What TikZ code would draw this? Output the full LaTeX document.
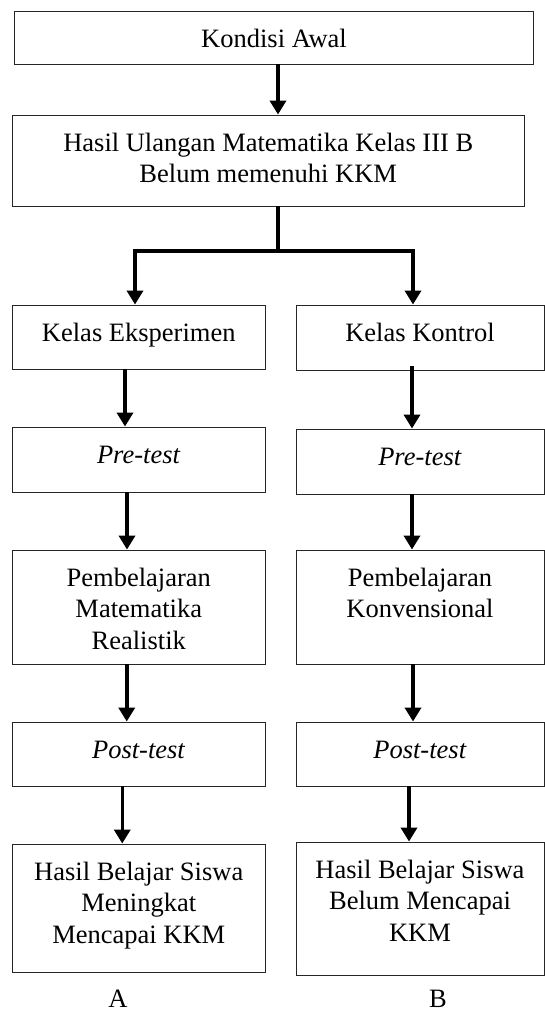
\documentclass[tikz,border=0pt]{standalone}
\usepackage{fontspec}
\setmainfont{Liberation Serif}
\usetikzlibrary{arrows.meta}

% box contents: width, height, text (top aligned)
\newcommand{\isi}[3]{\begin{minipage}[c][#2][t]{#1}\centering\rule{0pt}{36pt}#3\end{minipage}}

\begin{document}
\begin{tikzpicture} [x=1pt, y=-1pt,
  font=\fontsize{26.5}{31.5}\selectfont,
  kotak/.style={draw=black!85, line width=0.9pt, inner sep=0pt},
  garis/.style={line width=3.5pt},
  panah/.style={line width=3.5pt, -{Triangle[width=16pt, length=14pt]}}]
\useasboundingbox (0,0) rectangle (545,1012);

\path (274,37.5) node[kotak] (awal) {\isi{519pt}{53pt}{Kondisi Awal}}
      (268.25,160.5) node[kotak] (ulangan) {\isi{511.5pt}{91pt}{Hasil Ulangan Matematika Kelas III B\\Belum memenuhi KKM}}
      (138.75,337) node[kotak] (eksp) {\isi{252.5pt}{64pt}{Kelas Eksperimen}}
      (420,337.5) node[kotak] (kontrol) {\isi{248pt}{65pt}{Kelas Kontrol}}
      (138.75,459.5) node[kotak] (preA) {\isi{252.5pt}{65pt}{\textit{Pre-test}}}
      (420,461.5) node[kotak] (preB) {\isi{248pt}{65pt}{\textit{Pre-test}}}
      (138.75,607) node[kotak] (pembA) {\isi{252.5pt}{114pt}{Pembelajaran\\Matematika\\Realistik}}
      (420,607) node[kotak] (pembB) {\isi{248pt}{114pt}{Pembelajaran\\Konvensional}}
      (138.75,754) node[kotak] (postA) {\isi{252.5pt}{64pt}{\textit{Post-test}}}
      (420,754) node[kotak] (postB) {\isi{248pt}{64pt}{\textit{Post-test}}}
      (138.75,908) node[kotak] (hasilA) {\isi{252.5pt}{128pt}{Hasil Belajar Siswa\\Meningkat\\Mencapai KKM}}
      (420,908.5) node[kotak] (hasilB) {\isi{248pt}{133pt}{Hasil Belajar Siswa\\Belum Mencapai\\KKM}}
      (118,999) node (labA) {A}
      (438,999) node (labB) {B};
\coordinate (cabang) at (278,251);

\draw[panah] ([xshift=4pt]awal.south) -- ([xshift=4pt]awal.south |- ulangan.north);
\draw[garis] ([xshift=9.75pt]ulangan.south) -- ([yshift=-1.75pt]cabang);
\draw[panah] ([xshift=-1.75pt]cabang) -| ([xshift=-3.75pt]eksp.north);
\draw[panah] ([xshift=1.75pt]cabang) -| ([xshift=-7pt]kontrol.north);

% left column
\draw[panah] ([xshift=-13.75pt]eksp.south) -- ([xshift=-13.75pt]eksp.south |- preA.north);
\draw[panah] ([xshift=-11.75pt]preA.south) -- ([xshift=-11.75pt]preA.south |- pembA.north);
\draw[panah] ([xshift=-12pt]pembA.south) -- ([xshift=-12pt]pembA.south |- postA.north);
\draw[panah] ([xshift=-16.5pt]postA.south) -- ([xshift=-16.5pt]postA.south |- hasilA.north);

% right column
\draw[panah] ([xshift=-8pt, yshift=4pt]kontrol.south) -- ([xshift=-8pt]kontrol.south |- preB.north);
\draw[panah] ([xshift=-8pt]preB.south) -- ([xshift=-8pt]preB.south |- pembB.north);
\draw[panah] ([xshift=-7pt]pembB.south) -- ([xshift=-7pt]pembB.south |- postB.north);
\draw[panah] ([xshift=-11pt]postB.south) -- ([xshift=-11pt]postB.south |- hasilB.north);
\end{tikzpicture}
\end{document}
